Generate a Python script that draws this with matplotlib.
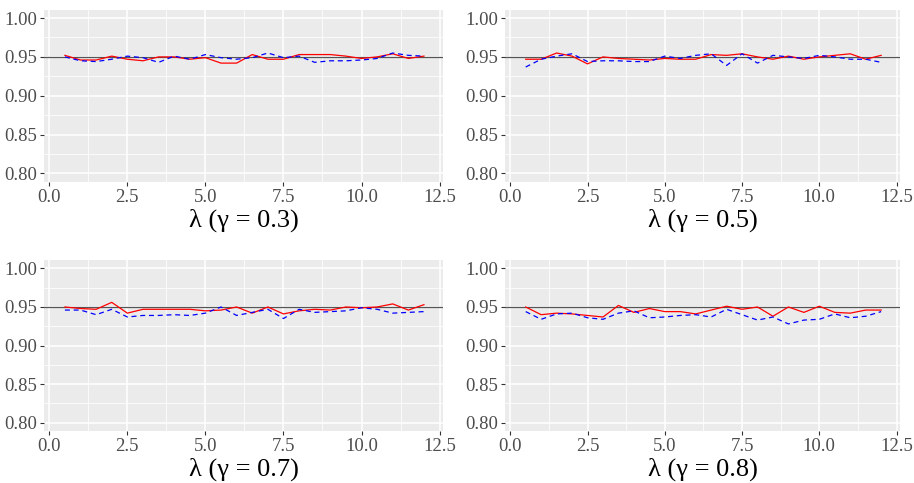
import matplotlib
matplotlib.use("Agg")
import matplotlib.pyplot as plt
import numpy as np

# lambda grid
lam = np.arange(1, 25) * 0.5

# coverage, red = solid series, blue = dashed series
red_03 = [0.952, 0.946, 0.946, 0.951, 0.947, 0.945, 0.950, 0.950, 0.947, 0.949, 0.942, 0.942,
          0.953, 0.947, 0.947, 0.953, 0.953, 0.953, 0.951, 0.948, 0.950, 0.954, 0.948, 0.951]
blue_03 = [0.950, 0.945, 0.944, 0.947, 0.951, 0.949, 0.943, 0.951, 0.947, 0.953, 0.949, 0.947,
           0.949, 0.955, 0.949, 0.951, 0.943, 0.945, 0.945, 0.946, 0.948, 0.955, 0.952, 0.951]
red_05 = [0.947, 0.947, 0.955, 0.951, 0.941, 0.950, 0.948, 0.947, 0.946, 0.948, 0.947, 0.947,
          0.953, 0.952, 0.954, 0.950, 0.947, 0.951, 0.947, 0.950, 0.952, 0.954, 0.947, 0.952]
blue_05 = [0.937, 0.947, 0.951, 0.954, 0.944, 0.945, 0.945, 0.944, 0.944, 0.951, 0.948, 0.952,
           0.954, 0.939, 0.954, 0.942, 0.952, 0.950, 0.948, 0.952, 0.950, 0.947, 0.947, 0.943]
red_07 = [0.950, 0.948, 0.947, 0.956, 0.942, 0.947, 0.947, 0.947, 0.947, 0.945, 0.946, 0.950,
          0.942, 0.950, 0.941, 0.945, 0.947, 0.946, 0.950, 0.949, 0.950, 0.954, 0.946, 0.953]
blue_07 = [0.946, 0.946, 0.940, 0.947, 0.937, 0.939, 0.939, 0.940, 0.939, 0.942, 0.950, 0.939,
           0.943, 0.947, 0.935, 0.947, 0.943, 0.944, 0.945, 0.949, 0.947, 0.942, 0.943, 0.944]
red_08 = [0.950, 0.940, 0.942, 0.941, 0.939, 0.937, 0.952, 0.943, 0.948, 0.944, 0.944, 0.941,
          0.946, 0.951, 0.947, 0.950, 0.938, 0.950, 0.943, 0.951, 0.943, 0.942, 0.946, 0.946]
blue_08 = [0.944, 0.934, 0.941, 0.942, 0.936, 0.934, 0.942, 0.945, 0.936, 0.937, 0.939, 0.940,
           0.937, 0.947, 0.940, 0.933, 0.937, 0.928, 0.933, 0.934, 0.941, 0.936, 0.938, 0.944]

gammas = ["0.3", "0.5", "0.7", "0.8"]
reds = [red_03, red_05, red_07, red_08]
blues = [blue_03, blue_05, blue_07, blue_08]

W, H = 914, 483
fig = plt.figure(figsize=(W / 100, H / 100), dpi=100)
plt.rcParams['font.family'] = ['Liberation Serif', 'DejaVu Serif']

# panel boxes in pixels: left, top, right, bottom
boxes = [(44, 9.5, 443, 182), (505, 9.5, 900, 182),
         (44, 260, 443, 431), (505, 260, 900, 431)]

for i in range(4):
    l, t, r, b = boxes[i]
    ax = fig.add_axes([l / W, 1 - b / H, (r - l) / W, (b - t) / H])
    ax.set_facecolor("#EBEBEB")
    for s in ax.spines.values():
        s.set_visible(False)
    ax.set_xlim(-0.17, 12.61)
    ax.set_ylim(0.789, 1.011)
    ax.set_xticks([0, 2.5, 5, 7.5, 10, 12.5])
    ax.set_xticklabels(["0.0", "2.5", "5.0", "7.5", "10.0", "12.5"])
    ax.set_yticks([0.80, 0.85, 0.90, 0.95, 1.00])
    ax.set_yticklabels(["0.80", "0.85", "0.90", "0.95", "1.00"])
    ax.set_xticks([1.25, 3.75, 6.25, 8.75, 11.25], minor=True)
    ax.set_yticks([0.825, 0.875, 0.925, 0.975], minor=True)
    ax.grid(which="major", color="white", linewidth=1.1)
    ax.grid(which="minor", color="white", linewidth=0.55)
    ax.set_axisbelow(True)
    ax.tick_params(which="major", length=3, width=0.8, color="#333333",
                   labelcolor="#4D4D4D", labelsize=13.5, pad=2)
    ax.tick_params(which="minor", length=0)
    ax.axhline(0.95, color="#555555", linewidth=0.9)
    ax.plot(lam, reds[i], color="red", linewidth=0.9)
    ax.plot(lam, blues[i], color="blue", linewidth=0.9, linestyle=(0, (4, 3)))
    ax.set_xlabel("λ (γ = " + gammas[i] + ")", fontsize=19, color="black", labelpad=2)

fig.savefig("out.png", dpi=100)
